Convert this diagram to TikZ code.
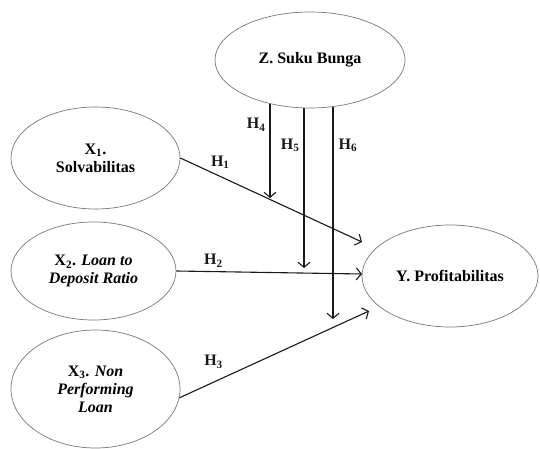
\documentclass[tikz,border=0pt]{standalone}
\usepackage{fontspec}
\setmainfont{Liberation Serif}
\usepackage{tikz}
\usetikzlibrary{shapes.geometric, arrows.meta, positioning, backgrounds}
\definecolor{edge}{RGB}{120, 120, 120}
\definecolor{dark}{RGB}{25, 25, 25}
\tikzset{
    var/.style={ellipse, draw=edge, line width=0.7pt, fill=white, align=center, inner sep=0pt, font=\fontsize{16}{18}\selectfont\bfseries},
    arr/.style={-{Straight Barb[length=5pt, width=12pt]}, line width=1.1pt, dark},
    hyp/.style={font=\fontsize{16}{18}\selectfont\bfseries, inner sep=2pt}
}
\begin{document}
\begin{tikzpicture}[x=1pt, y=-1pt]
        \useasboundingbox (0,0) rectangle (540,449);
        \node[var, minimum width=190, minimum height=96] (suku) at (310,60) {Z. Suku Bunga};
        \node[var, minimum width=169, minimum height=102] (solv) at (95.5,158) {X\textsubscript{1}.\\Solvabilitas};
        \node[var, minimum width=165, minimum height=98] (ldr) at (93.5,271) {X\textsubscript{2}. \textit{Loan to}\\\textit{Deposit Ratio}};
        \node[var, minimum width=169, minimum height=118] (npl) at (95.5,389) {X\textsubscript{3}. \textit{Non}\\\textit{Performing}\\\textit{Loan}};
        \node[var, minimum width=176, minimum height=102] (prof) at (450,276) {Y. Profitabilitas};

        \coordinate (h1end) at (362,242);
        \coordinate (h2end) at (362,274);
        \coordinate (h3end) at (369,311);
        \coordinate (h4end) at (270,198);
        \coordinate (h5end) at (304,268);
        \coordinate (h6end) at (333,319);

        \draw[arr] (solv.east)--node[hyp, pos=0.22, above=5pt]{H\textsubscript{1}}(h1end);
        \draw[arr] (ldr.east)--node[hyp, pos=0.2, above=2pt]{H\textsubscript{2}}(h2end);
        \draw[arr] (npl.-6)--node[hyp, pos=0.18, above=11pt]{H\textsubscript{3}}(h3end);
        \begin{scope}[on background layer]
            \draw[arr] (h4end |- suku.center)--node[hyp, pos=0.47, left=2pt]{H\textsubscript{4}}(h4end);
            \draw[arr] (h5end |- suku.center)--node[hyp, pos=0.41, left=2pt]{H\textsubscript{5}}(h5end);
            \draw[arr] (h6end |- suku.center)--node[hyp, pos=0.33, right=3pt]{H\textsubscript{6}}(h6end);
        \end{scope}
    \end{tikzpicture}
\end{document}
